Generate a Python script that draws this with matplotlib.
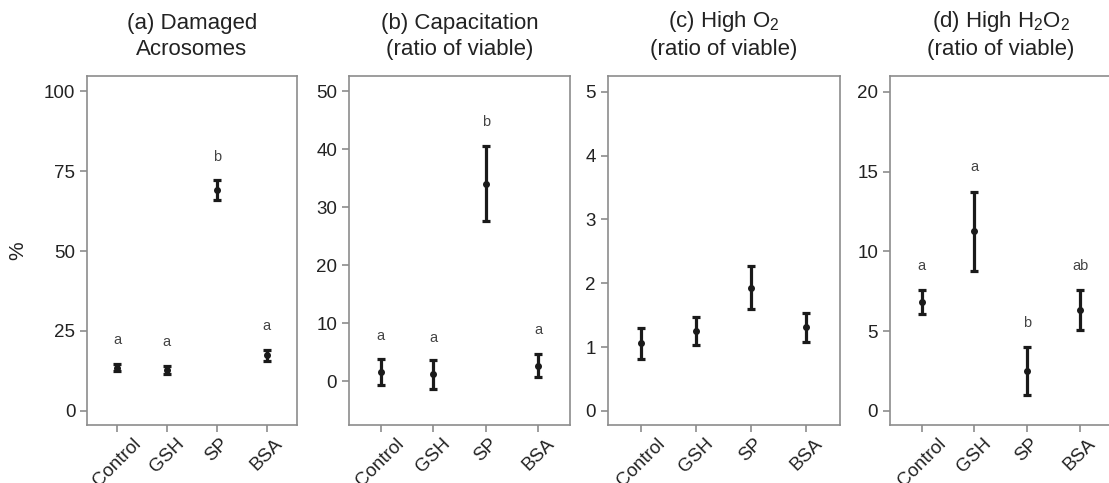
import numpy as np
import matplotlib
matplotlib.use("Agg")
import matplotlib.pyplot as plt

plt.rcParams['font.family'] = ['Liberation Sans', 'DejaVu Sans']
plt.rcParams['mathtext.fontset'] = 'custom'
plt.rcParams['mathtext.rm'] = 'Liberation Sans'
plt.rcParams['mathtext.it'] = 'Liberation Sans:italic'

groups = ['Control', 'GSH', 'SP', 'BSA']

titles = ['(a) Damaged\nAcrosomes',
          '(b) Capacitation\n(ratio of viable)',
          '(c) High O$_2$\n(ratio of viable)',
          '(d) High H$_2$O$_2$\n(ratio of viable)']

# means and error half-widths
acro_mean = [13.5, 12.7, 69.1, 17.4]
acro_err = [1.0, 1.3, 3.1, 1.7]
acro_letters = ['a', 'a', 'b', 'a']
acro_letter_y = [22.0, 21.4, 79.6, 26.6]

cap_mean = [1.55, 1.15, 34.1, 2.65]
cap_err = [2.2, 2.45, 6.5, 2.0]
cap_letters = ['a', 'a', 'b', 'a']
cap_letter_y = [7.8, 7.5, 44.7, 8.8]

o2_mean = [1.06, 1.25, 1.93, 1.31]
o2_err = [0.245, 0.22, 0.34, 0.23]

h2o2_mean = [6.83, 11.26, 2.49, 6.31]
h2o2_err = [0.75, 2.47, 1.5, 1.24]
h2o2_letters = ['a', 'a', 'b', 'ab']
h2o2_letter_y = [9.09, 15.26, 5.5, 9.09]

yticks = [[0, 25, 50, 75, 100], [0, 10, 20, 30, 40, 50],
          [0, 1, 2, 3, 4, 5], [0, 5, 10, 15, 20]]
ylims = [(-4.5, 104.9), (-7.6, 52.7), (-0.22, 5.25), (-0.88, 21)]

panels = [(acro_mean, acro_err, acro_letters, acro_letter_y),
          (cap_mean, cap_err, cap_letters, cap_letter_y),
          (o2_mean, o2_err, None, None),
          (h2o2_mean, h2o2_err, h2o2_letters, h2o2_letter_y)]

# axes positions in figure fractions
boxes = [[0.0785, 0.12, 0.189, 0.723],
         [0.3147, 0.12, 0.199, 0.723],
         [0.548, 0.12, 0.209, 0.723],
         [0.8025, 0.12, 0.200, 0.723]]

fig = plt.figure(figsize=(11.09, 4.83), dpi=100)
frame = '#8c8c8c'
x = np.arange(len(groups))

for i in range(4):
    ax = fig.add_axes(boxes[i])
    mean, err, letters, ly = panels[i]
    ax.errorbar(x, mean, yerr=err, fmt='o', color='#1a1a1a', ms=4,
                elinewidth=2.3, capsize=3, capthick=2.3)
    if letters:
        for xi, t, yy in zip(x, letters, ly):
            ax.text(xi, yy, t, ha='center', va='center', fontsize=10.5, color='#444444')
    ax.set_xlim(-0.6, 3.6)
    ax.set_ylim(*ylims[i])
    ax.set_yticks(yticks[i])
    ax.set_xticks(x)
    ax.set_xticklabels(groups, rotation=45)
    ax.tick_params(axis='both', colors=frame, labelcolor='#222222',
                   labelsize=13.5, length=5, width=1.2)
    ax.tick_params(axis='x', pad=2)
    for s in ax.spines.values():
        s.set_color(frame)
        s.set_linewidth(1.2)
    ax.set_title(titles[i], fontsize=16, color='#222222', pad=15, linespacing=1.3)
    if i == 0:
        ax.set_ylabel('%', fontsize=15, color='#222222', labelpad=12)

plt.savefig('out.png', dpi=100)
